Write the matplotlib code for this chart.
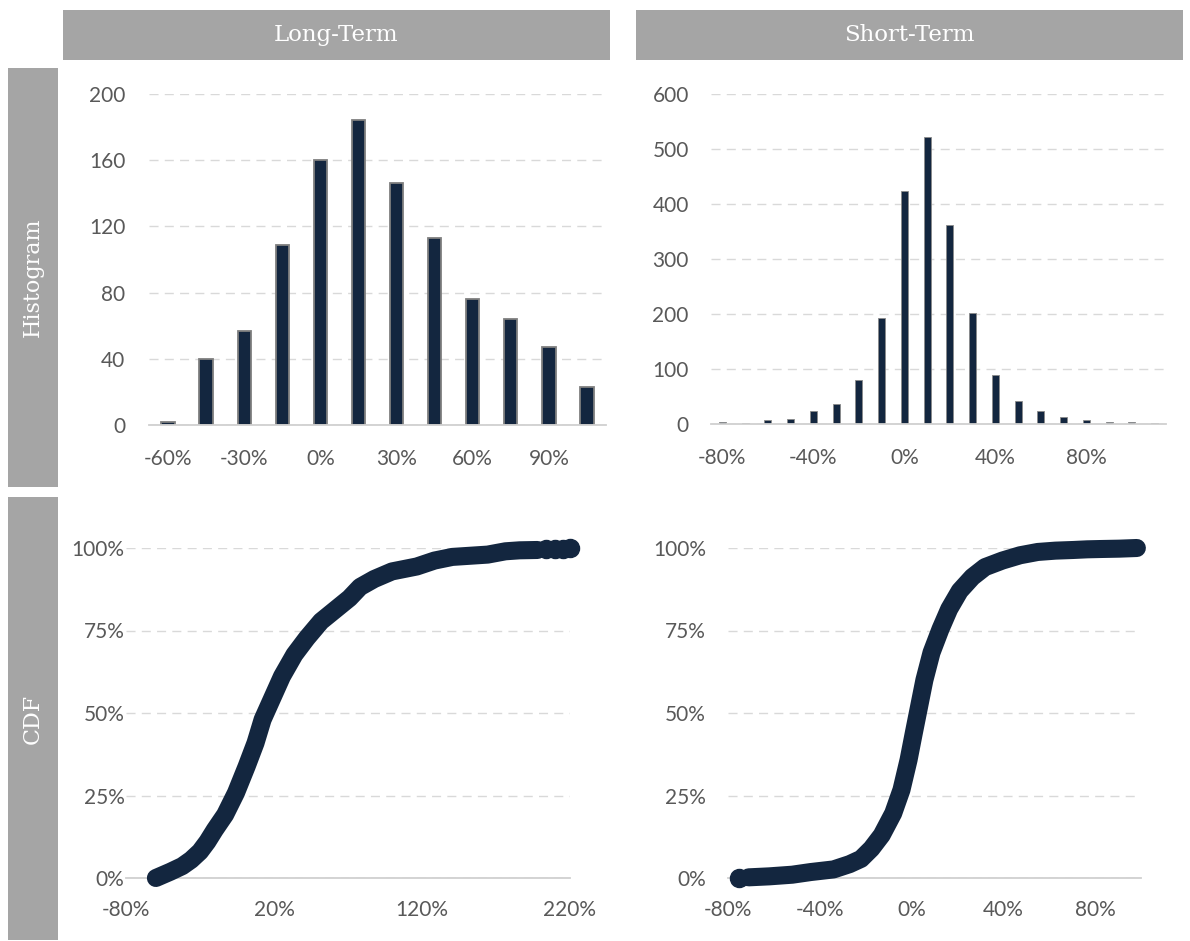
import matplotlib
matplotlib.use('Agg')
import matplotlib.pyplot as plt
from matplotlib.patches import Rectangle
from matplotlib.ticker import FuncFormatter

W, H = 1190, 941
navy = '#13263f'
gray_box = '#a5a5a5'
tick_col = '#595959'

# histogram data (bin centre in %, count)
lt_bins = [-60, -45, -30, -15, 0, 15, 30, 45, 60, 75, 90, 105]
lt_counts = [2, 40, 57, 109, 160, 184, 146, 113, 76, 64, 47, 23]

st_bins = [-80, -70, -60, -50, -40, -30, -20, -10, 0, 10, 20, 30, 40, 50, 60, 70, 80, 90, 100, 110]
st_counts = [3, 1, 7, 10, 23, 36, 80, 193, 423, 521, 361, 201, 89, 42, 23, 13, 7, 3, 3, 2]

# cdf points (return %, cumulative %)
lt_cdf_x = [-59.8, -50, -42, -36, -30, -25, -20, -13, -5.7, 1.5, 7.5, 12.3, 18.3, 25.4, 33.8,
            42.2, 51.8, 61.4, 71, 78.2, 87.7, 99.7, 116.5, 128.5, 140.5, 164.4, 176.4, 186, 198]
lt_cdf_y = [0, 1.9, 3.6, 5.5, 8, 11, 14.6, 19.2, 25.8, 33.8, 40.9, 48, 54, 61.1, 67.7,
            72.7, 77.8, 81.3, 84.8, 88.2, 90.6, 92.9, 94.4, 96.2, 97.3, 98, 99, 99.3, 99.4]
lt_tail_x = [204, 210, 215, 220]
lt_tail_y = [99.6, 99.7, 99.8, 99.9]

st_cdf_x = [-71, -62, -52, -44, -34, -27, -22, -17.5, -13, -8, -4.4, -1.3, 1, 3.3, 5.6, 8.7,
            12.6, 16.4, 21, 26.5, 32, 39.6, 47.3, 55, 62.7, 70.5, 76.6, 82.8, 90.5, 98.2]
st_cdf_y = [0.2, 0.5, 1.0, 1.8, 2.6, 4.2, 5.8, 8.9, 13, 19.6, 26.7, 35.8, 44, 52, 60, 68.3,
            75.4, 81.5, 87, 91.2, 94.2, 96.2, 97.8, 98.8, 99.2, 99.4, 99.6, 99.7, 99.8, 100]
st_first_x = [-75.3]
st_first_y = [0]

fig = plt.figure(figsize=(W / 100, H / 100), dpi=100)


def box(x0, y0, x1, y1, text, rot=0, size=16.5):
    fig.add_artist(Rectangle((x0 / W, 1 - y1 / H), (x1 - x0) / W, (y1 - y0) / H,
                             transform=fig.transFigure, color=gray_box, lw=0))
    fig.text((x0 + x1) / 2 / W, 1 - (y0 + y1) / 2 / H, text, color='white',
             family='DejaVu Serif', fontsize=size, rotation=rot, ha='center', va='center')


box(63, 10, 610, 60, 'Long-Term')
box(636, 10, 1183, 60, 'Short-Term')
box(8, 68, 58, 487, 'Histogram', 90, 16)
box(8, 497, 58, 940, 'CDF', 90, 16)


def add_ax(x0, x1, ytop, ybot):
    return fig.add_axes([x0 / W, 1 - ybot / H, (x1 - x0) / W, (ybot - ytop) / H])


def style(ax, ypad=16, xpad=17):
    for s in ['top', 'right', 'left']:
        ax.spines[s].set_visible(False)
    ax.spines['bottom'].set_color('#d0d0d0')
    ax.spines['bottom'].set_linewidth(1.3)
    ax.tick_params(length=0, labelcolor=tick_col, labelsize=15)
    ax.tick_params(axis='y', pad=ypad)
    ax.tick_params(axis='x', pad=xpad)
    ax.yaxis.grid(True, ls=(0, (6.5, 4.5)), color='#d9d9d9', lw=1)
    ax.set_axisbelow(True)
    for lab in ax.get_xticklabels() + ax.get_yticklabels():
        lab.set_family('Lato')


# histograms
ax1 = add_ax(149, 606, 94, 425)
idx = list(range(len(lt_bins)))
ax1.bar(idx, lt_counts, width=0.35, color=navy, edgecolor='#7f7f7f', linewidth=1.3)
ax1.set_xlim(-0.5, len(lt_bins) - 0.5)
ax1.set_ylim(0, 200)
ax1.set_yticks([0, 40, 80, 120, 160, 200])
ax1.set_xticks(idx[::2])
ax1.set_xticklabels([f'{b}%' for b in lt_bins[::2]])
style(ax1, ypad=17)

ax2 = add_ax(711, 1166, 94, 424)
idx2 = list(range(len(st_bins)))
ax2.bar(idx2, st_counts, width=0.3, color=navy, edgecolor='#8a8a8a', linewidth=0.6)
ax2.set_xlim(-0.5, len(st_bins) - 0.5)
ax2.set_ylim(0, 600)
ax2.set_yticks([0, 100, 200, 300, 400, 500, 600])
ax2.set_xticks(idx2[::4])
ax2.set_xticklabels([f'{b}%' for b in st_bins[::4]])
style(ax2)

pct = FuncFormatter(lambda v, p: f'{v:.0f}%')

# cdfs
ax3 = add_ax(126, 570, 548, 878)
ax3.plot(lt_cdf_x, lt_cdf_y, color=navy, lw=13, solid_capstyle='round',
         solid_joinstyle='round', clip_on=False, zorder=3)
ax3.plot(lt_tail_x, lt_tail_y, color=navy, lw=9, marker='o', ms=13,
         solid_capstyle='round', clip_on=False, zorder=3)
ax3.set_xlim(-80, 220)
ax3.set_ylim(0, 100)
ax3.set_xticks([-80, 20, 120, 220])
ax3.set_yticks([0, 25, 50, 75, 100])
ax3.xaxis.set_major_formatter(pct)
ax3.yaxis.set_major_formatter(pct)
style(ax3, ypad=1, xpad=16)

ax4 = add_ax(728, 1141, 548, 878)
ax4.plot(st_cdf_x, st_cdf_y, color=navy, lw=13, solid_capstyle='round',
         solid_joinstyle='round', clip_on=False, zorder=3)
ax4.plot(st_first_x, st_first_y, 'o', color=navy, ms=13, clip_on=False, zorder=3)
ax4.set_xlim(-80, 100)
ax4.set_ylim(0, 100)
ax4.set_xticks([-80, -40, 0, 40, 80])
ax4.set_yticks([0, 25, 50, 75, 100])
ax4.xaxis.set_major_formatter(pct)
ax4.yaxis.set_major_formatter(pct)
style(ax4, xpad=16)

fig.savefig('out.png', dpi=100)
